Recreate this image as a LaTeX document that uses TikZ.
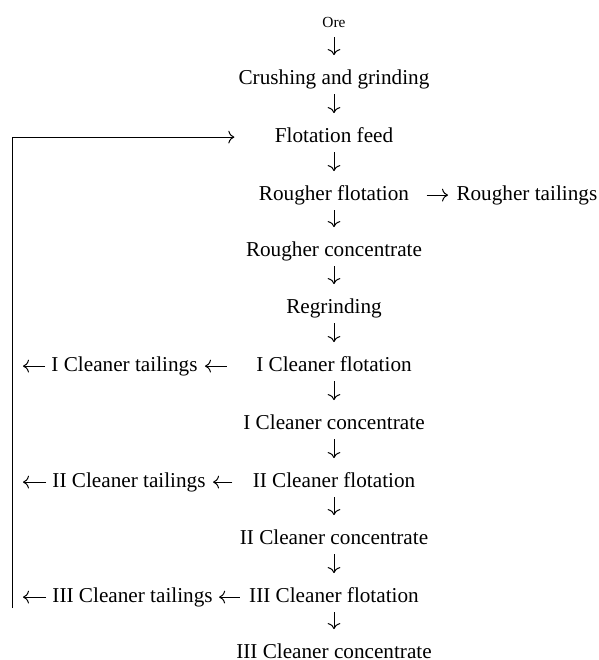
\documentclass[tikz,border=0pt]{standalone}
\usepackage{fontspec}
\setmainfont{Liberation Serif}
\usepackage{tikz}
\usetikzlibrary{positioning}
\usetikzlibrary{arrows.meta}
\tikzset{>={Computer Modern Rightarrow[length=3pt,width=6.4pt]}}

\begin{document}
\begin{tikzpicture}[x=0.5pt, y=-0.5pt, line width=0.5pt,
    stage/.style={anchor=base, inner sep=0pt, text height=7.2pt, text depth=2.3pt,
                  font=\fontsize{10.6}{12}\selectfont},
    down/.style={->, shorten <=2.5pt, shorten >=7pt}]
    \useasboundingbox (0,0) rectangle (599,660);

    % 1. Main line of stages, one below the other
    \node[stage, font=\fontsize{7.7}{9}\selectfont] (ore) at (334,27) {Ore};
    \node[stage] (crush)   at (334,84)  {Crushing and grinding};
    \node[stage] (feed)    at (334,142) {Flotation feed};
    \node[stage] (rough)   at (334,200) {Rougher flotation};
    \node[stage] (rconc)   at (334,256) {Rougher concentrate};
    \node[stage] (regrind) at (334,313) {Regrinding};
    \node[stage] (cfI)     at (334,371) {I Cleaner flotation};
    \node[stage] (ccI)     at (334,429) {I Cleaner concentrate};
    \node[stage] (cfII)    at (334,487) {II Cleaner flotation};
    \node[stage] (ccII)    at (334,544) {II Cleaner concentrate};
    \node[stage] (cfIII)   at (334,602) {III Cleaner flotation};
    \node[stage] (ccIII)   at (334,658) {III Cleaner concentrate};

    % 2. Tailings
    \node[stage, anchor=base west] (rtail)   at (456,200) {Rougher tailings};
    \node[stage, anchor=base west] (tailI)   at (51,371)  {I Cleaner tailings};
    \node[stage, anchor=base west] (tailII)  at (52,487)  {II Cleaner tailings};
    \node[stage, anchor=base west] (tailIII) at (52,602)  {III Cleaner tailings};

    % 3. Down arrows between the stages
    \foreach \a/\b in {ore/crush, crush/feed, feed/rough, rough/rconc, rconc/regrind,
                       regrind/cfI, cfI/ccI, ccI/cfII, cfII/ccII, ccII/cfIII, cfIII/ccIII}
        \draw[down] (\a) -- (\b);

    % 4. Tailings arrows
    \draw[->, shorten <=8.5pt, shorten >=4pt] (rough.east) -- (rtail.west);
    \draw[->, shorten <=14.5pt, shorten >=3.5pt] (cfI.west) -- (tailI.east);
    \draw[->, shorten <=10pt, shorten >=3.5pt] (cfII.west) -- (tailII.east);
    \draw[->, shorten <=4.5pt, shorten >=3pt] (cfIII.west) -- (tailIII.east);

    % 5. Return line back to the flotation feed
    \coordinate (bot) at (12,608);
    \coordinate (backI)   at (tailI.west -| bot);
    \coordinate (backII)  at (tailII.west -| bot);
    \coordinate (backIII) at (tailIII.west -| bot);
    \draw[->, shorten <=3pt, shorten >=5.5pt] (tailI.west) -- (backI);
    \draw[->, shorten <=3pt, shorten >=5.5pt] (tailII.west) -- (backII);
    \draw[->, shorten <=3pt, shorten >=5.5pt] (tailIII.west) -- (backIII);
    \draw[->, shorten >=20pt] (bot) |- (feed.west);
\end{tikzpicture}
\end{document}
